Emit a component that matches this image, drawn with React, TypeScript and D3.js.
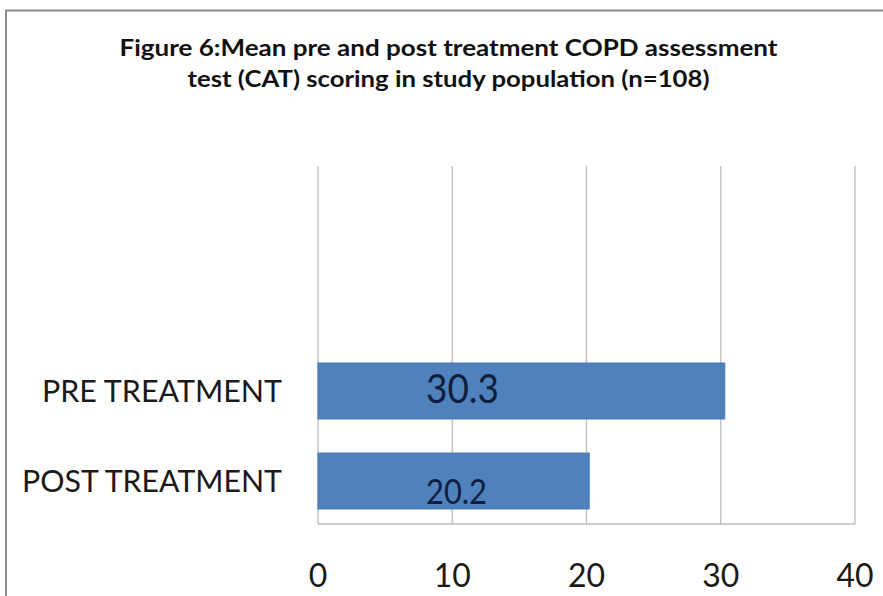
import React from "react";
import * as d3 from "d3";

const categories = ["PRE TREATMENT", "POST TREATMENT"];
const values = [30.3, 20.2];
const xTicks = [0, 10, 20, 30, 40];
const titleLines = [
  "Figure 6:Mean pre and post treatment COPD assessment",
  "test (CAT) scoring in study population (n=108)",
];

const W = 883;
const H = 596;
const FONT = "Lato, 'Open Sans', 'DejaVu Sans', sans-serif";

export default function App() {
  const x = d3.scaleLinear().domain([0, 40]).range([318, 855]);
  const y = d3
    .scaleBand<string>()
    .domain(categories)
    .range([346, 526])
    .paddingInner(0.378)
    .paddingOuter(0.189);

  const plotTop = 166;
  const plotBottom = 524;

  const titleWidths = [658, 522];
  const catWidths = [240, 260];
  const valueFont = [40, 34];
  const valueWidths = [73, 61];

  return (
    <svg
      width={W}
      height={H}
      style={{ position: "absolute", left: 0, top: 0, background: "#fff" }}
      fontFamily={FONT}
    >
      <rect x={0} y={0} width={W} height={H} fill="#fff" />
      {/* chart frame */}
      <path d={`M6,${H} V10.5 H${W}`} fill="none" stroke="#8c8c8c" strokeWidth={2} />

      {/* title */}
      {titleLines.map((t, i) => (
        <text
          key={t}
          x={W / 2 + 7}
          y={56 + i * 31}
          textAnchor="middle"
          fontSize={23}
          fontWeight="bold"
          fill="#111"
          textLength={titleWidths[i]}
          lengthAdjust="spacingAndGlyphs"
        >
          {t}
        </text>
      ))}

      {/* vertical gridlines */}
      {xTicks.map((t) => (
        <line
          key={t}
          x1={x(t)}
          x2={x(t)}
          y1={plotTop}
          y2={plotBottom}
          stroke="#bdbdbd"
          strokeWidth={1.3}
        />
      ))}
      {/* bottom axis line */}
      <line x1={x(0)} x2={x(40)} y1={plotBottom} y2={plotBottom} stroke="#bdbdbd" strokeWidth={1.3} />

      {/* bars */}
      {categories.map((c, i) => (
        <rect
          key={c}
          x={x(0)}
          y={y(c)}
          width={x(values[i]) - x(0)}
          height={y.bandwidth()}
          fill="#4f81bd"
          stroke="#4a7ab5"
          strokeWidth={1}
        />
      ))}

      {/* value labels */}
      {categories.map((c, i) => (
        <text
          key={c + "-v"}
          x={426}
          y={(y(c) as number) + (i === 0 ? 40 : 51)}
          fontSize={valueFont[i]}
          fill="#0f1e3d"
          textLength={valueWidths[i]}
          lengthAdjust="spacingAndGlyphs"
        >
          {values[i].toFixed(1)}
        </text>
      ))}

      {/* category labels */}
      {categories.map((c, i) => (
        <text
          key={c + "-l"}
          x={282}
          y={(y(c) as number) + y.bandwidth() / 2 + 11}
          textAnchor="end"
          fontSize={31}
          fill="#1a1a1a"
          textLength={catWidths[i]}
          lengthAdjust="spacingAndGlyphs"
        >
          {c}
        </text>
      ))}

      {/* x tick labels */}
      {xTicks.map((t) => (
        <text key={t + "-t"} x={x(t)} y={587} textAnchor="middle" fontSize={32} fill="#1a1a1a">
          {t}
        </text>
      ))}
    </svg>
  );
}
